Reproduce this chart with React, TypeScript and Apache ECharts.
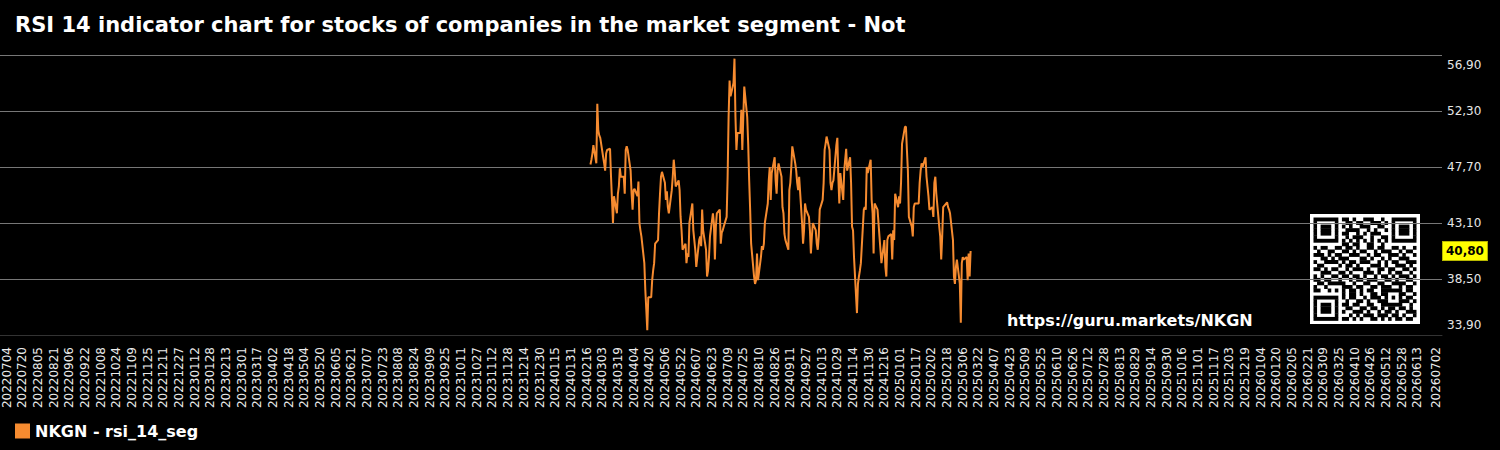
import React, { useEffect, useRef } from 'react';
import * as echarts from 'echarts';

const TITLE = 'RSI 14 indicator chart for stocks of companies in the market segment - Not';
const SERIES_NAME = 'NKGN - rsi_14_seg';
const WATERMARK = 'https://guru.markets/NKGN';

// Calendar span of the category axis and of the plotted series (YYYYMMDD)
const AXIS_START = '20220704';
const AXIS_END = '20260702';
const SERIES_START = '20240220';
const SERIES_END = '20250314';

// Value axis ticks
const Y_MIN = 33.9;
const Y_MAX = 56.9;
const Y_STEP = 4.6;
const LABEL_EVERY = 16;

// RSI(14) closing values, one per weekday from SERIES_START to SERIES_END
const rsiValues = [
  47.9, 48.3, 48.8, 49.5,
  48.0, 52.9, 50.7, 50.3, 50.1,
  48.5, 48.0, 47.4, 48.8, 49.1,
  49.2, 46.9, 45.0, 43.1, 45.3,
  43.9, 45.5, 46.1, 47.6, 46.9,
  46.9, 45.5, 49.1, 49.4, 49.1,
  47.4, 45.5, 44.2, 45.8, 45.9,
  45.3, 46.5, 43.1, 42.5, 42.0,
  39.8, 37.6, 36.0, 34.3, 37.0,
  37.0, 38.4, 39.2, 39.8, 41.4,
  41.7, 43.9, 45.5, 46.9, 47.3,
  46.4, 45.0, 45.7, 44.4, 43.9,
  45.8, 46.9, 48.3, 47.4, 46.1,
  46.6, 45.8, 43.6, 42.5, 40.9,
  41.4, 39.8, 40.6, 40.3, 43.1,
  44.7, 42.5, 41.7, 40.9, 39.5,
  41.7, 42.0, 41.2, 44.2, 42.5,
  40.9, 38.7, 39.2, 40.3, 42.0,
  43.9, 43.1, 40.1, 42.8, 43.9,
  44.2, 41.4, 42.3, 42.5, 42.8,
  43.6, 46.9, 51.8, 54.8, 53.5,
  54.6, 56.6, 51.8, 49.1, 50.5,
  50.5, 52.4, 49.1, 51.8, 54.3,
  51.8, 49.6, 46.6, 44.2, 41.4,
  38.7, 38.1, 38.4, 40.6, 38.4,
  40.3, 41.2, 40.9, 41.4, 43.1,
  44.7, 46.6, 47.7, 45.0, 47.2,
  48.5, 46.6, 45.5, 47.4, 48.0,
  46.9, 44.4, 43.9, 42.2, 41.7,
  40.9, 45.8, 46.4, 47.7, 49.4,
  48.0, 47.4, 46.4, 45.8, 46.9,
  43.1, 41.4, 42.5, 44.7, 44.2,
  43.6, 42.5, 40.6, 42.0, 43.1,
  42.5, 41.4, 40.9, 42.0, 44.2,
  45.0, 46.4, 49.1, 49.6, 50.2,
  49.1, 46.4, 45.8, 46.4, 46.6,
  49.5, 50.1, 46.9, 44.7, 47.2,
  45.0, 47.4, 48.3, 49.2, 47.4,
  48.5, 46.4, 42.8, 42.5, 40.3,
  35.7, 38.1, 38.7, 39.2, 39.8,
  44.2, 44.4, 44.2, 47.7, 47.2,
  48.3, 45.0, 43.9, 40.6, 44.7,
  44.2, 43.1, 42.0, 40.9, 39.8,
  41.7, 39.5, 38.7, 41.7, 42.0,
  42.2, 40.1, 42.5, 41.7, 45.5,
  44.4, 45.3, 44.7, 46.4, 49.6,
  51.0, 51.0, 49.1, 47.4, 43.6,
  42.8, 42.0, 44.4, 44.7, 44.7,
  44.7, 46.4, 47.4, 48.0, 47.7,
  48.5, 46.9, 46.1, 45.3, 44.2,
  44.4, 43.6, 46.4, 46.9, 45.5,
  42.8, 42.0, 40.1, 42.0, 44.4,
  44.7, 44.8, 44.4, 44.2, 43.9,
  41.7, 38.7, 38.1, 39.5, 40.1,
  38.1, 34.9, 39.8, 40.3, 40.1,
  40.3, 38.4, 40.6, 38.7, 40.8,
];

// QR badge modules (1 = dark)
const qrRows = [
  '1111111 0 1101001110010 0 1111111',
  '1000001 0 0110110011101 0 1000001',
  '1011101 0 1010011100110 0 1011101',
  '1011101 0 0111100101001 0 1011101',
  '1011101 0 1100101011100 0 1011101',
  '1000001 0 0101110010011 0 1000001',
  '1111111 0 1010101010101 0 1111111',
  '0000000 0 1101100110010 0 0000000',
  '101100 1 1011010011011001101001',
  '010011 0 0110101100101110010110',
  '111010 1 1001110010110011101001',
  '001101 0 1110001101001010011100',
  '100111 1 0101101110010101100111',
  '011000 0 1011010001110100111010',
  '110101 1 0010111010011011001101',
  '001110 0 1101000111010010110010',
  '101001 1 0110110100101101011101',
  '110110 0 1001011011100110100110',
  '011011 1 1100100110011001111001',
  '100100 0 0111011001101110010110',
  '110010 1 0101101011001 11111 0110',
  '00000000 1 01101001101 10001 1001',
  '1111111 0 101100101110 10101 0110',
  '1000001 0 010011010011 10001 1101',
  '1011101 0 110110011001 11111 0010',
  '1011101 0 011001101101 011011010',
  '1011101 0 100111010010 110100111',
  '1000001 0 001010111011 101101001',
  '1111111 0 110101001101 010110110',
].map((r) => r.replace(/ /g, ''));

const DAY_MS = 86400000;
const FONT = 'DejaVu Sans';

function parseDay(s: string): number {
  return Date.UTC(+s.slice(0, 4), +s.slice(4, 6) - 1, +s.slice(6, 8));
}

function formatDay(t: number): string {
  const d = new Date(t);
  const mm = String(d.getUTCMonth() + 1).padStart(2, '0');
  const dd = String(d.getUTCDate()).padStart(2, '0');
  return `${d.getUTCFullYear()}${mm}${dd}`;
}

function calendarDays(from: string, to: string): string[] {
  const out: string[] = [];
  for (let t = parseDay(from); t <= parseDay(to); t += DAY_MS) out.push(formatDay(t));
  return out;
}

function weekdays(from: string, to: string): string[] {
  return calendarDays(from, to).filter((s) => {
    const w = new Date(parseDay(s)).getUTCDay();
    return w !== 0 && w !== 6;
  });
}

const fmtComma = (v: number) => v.toFixed(2).replace('.', ',');

function buildQr(size: number, pad: number) {
  const m = (size - 2 * pad) / qrRows.length;
  const children: any[] = [
    { type: 'rect', shape: { x: 0, y: 0, width: size, height: size }, style: { fill: '#ffffff' } },
  ];
  qrRows.forEach((row, r) => {
    let c = 0;
    while (c < row.length) {
      if (row[c] === '1') {
        let e = c;
        while (e < row.length && row[e] === '1') e++;
        children.push({
          type: 'rect',
          shape: { x: pad + c * m, y: pad + r * m, width: (e - c) * m, height: m + 0.35 },
          style: { fill: '#000000' },
        });
        c = e;
      } else c++;
    }
  });
  return children;
}

export default function App() {
  const ref = useRef<HTMLDivElement>(null);

  useEffect(() => {
    document.body.style.margin = '0';
    document.body.style.background = '#000';
    if (!ref.current) return;
    const chart = echarts.init(ref.current, undefined, { renderer: 'svg' });

    const categories = calendarDays(AXIS_START, AXIS_END);
    const indexOf = new Map(categories.map((d, i) => [d, i]));
    const tradeDays = weekdays(SERIES_START, SERIES_END);
    const seriesData = tradeDays.map((d, i) => [indexOf.get(d), rsiValues[i]]);
    const last = rsiValues[rsiValues.length - 1];
    const lastIdx = categories.length - 1;

    const option: any = {
      animation: false,
      backgroundColor: '#000000',
      textStyle: { fontFamily: FONT },
      title: {
        text: TITLE,
        left: 10,
        top: 9,
        textStyle: { color: '#ffffff', fontSize: 21, fontWeight: 'bold', fontFamily: FONT },
      },
      legend: {
        left: 10,
        top: 418,
        icon: 'rect',
        itemWidth: 15,
        itemHeight: 15,
        data: [SERIES_NAME],
        textStyle: { color: '#ffffff', fontSize: 16, fontWeight: 'bold', fontFamily: FONT },
      },
      grid: [
        { left: 6.5, right: 64, top: 55, bottom: 115 },
        { left: 0, right: 58, top: 55, bottom: 115 },
      ],
      xAxis: [
        {
          gridIndex: 0,
          type: 'category',
          data: categories,
          boundaryGap: false,
          axisLine: { show: false },
          axisTick: { show: false },
          splitLine: { show: false },
          axisLabel: {
            rotate: 90,
            margin: 12,
            color: '#ececec',
            fontSize: 12,
            fontFamily: FONT,
            interval: (i: number) =>
              (i % LABEL_EVERY === 0 && i < lastIdx - 10) || i === lastIdx,
          },
        },
        {
          gridIndex: 1,
          type: 'value',
          min: 0,
          max: 1,
          axisLine: { show: true, onZero: false, lineStyle: { color: '#333333', width: 1 } },
          axisTick: { show: false },
          axisLabel: { show: false },
          splitLine: { show: false },
        },
      ],
      yAxis: [
        { gridIndex: 0, type: 'value', min: Y_MIN, max: Y_MAX, interval: Y_STEP, show: false },
        {
          gridIndex: 1,
          type: 'value',
          position: 'right',
          min: Y_MIN,
          max: Y_MAX,
          interval: Y_STEP,
          axisLine: { show: false },
          axisTick: { show: false },
          splitLine: { show: true, lineStyle: { color: '#777777', width: 1 } },
          axisLabel: {
            margin: 5,
            color: '#e6e6e6',
            fontSize: 12,
            fontFamily: FONT,
            formatter: (v: number) => {
              const s = fmtComma(v);
              if (Math.abs(v - Y_MAX) < 1e-6) return `{hi|${s}}`;
              if (Math.abs(v - Y_MIN) < 1e-6) return `{lo|${s}}`;
              return s;
            },
            rich: {
              hi: { padding: [4, 0, 0, 0], color: '#e6e6e6', fontSize: 12, fontFamily: FONT },
              lo: { padding: [0, 0, 4, 0], color: '#e6e6e6', fontSize: 12, fontFamily: FONT },
            },
            verticalAlignMaxLabel: 'top',
            verticalAlignMinLabel: 'bottom',
          },
        },
      ],
      series: [
        {
          name: SERIES_NAME,
          type: 'line',
          xAxisIndex: 0,
          yAxisIndex: 0,
          data: seriesData,
          showSymbol: false,
          symbol: 'none',
          color: '#f68b30',
          lineStyle: { color: '#f68b30', width: 2 },
          z: 3,
          markLine: {
            silent: true,
            symbol: 'none',
            lineStyle: { color: 'rgba(0,0,0,0)', width: 0 },
            data: [{ yAxis: last }],
            label: {
              show: true,
              position: 'end',
              distance: 7,
              formatter: (p: any) => fmtComma(Number(p.value)),
              backgroundColor: '#ffff00',
              borderColor: '#b8b800',
              borderWidth: 1,
              color: '#000000',
              fontWeight: 'bold',
              fontSize: 12,
              fontFamily: FONT,
              padding: [3, 3, 3, 3],
            },
          },
        },
      ],
      graphic: [
        {
          type: 'group',
          x: 1310,
          y: 214,
          z: 10,
          children: buildQr(110, 3.5),
        },
        {
          type: 'text',
          x: 1007,
          y: 320,
          z: 10,
          style: {
            text: WATERMARK,
            fill: '#ffffff',
            font: `bold 16px "${FONT}"`,
            verticalAlign: 'middle',
            align: 'left',
          },
        },
      ],
    };

    chart.setOption(option);
    return () => chart.dispose();
  }, []);

  return (
    <div
      ref={ref}
      style={{ position: 'absolute', left: 0, top: 0, width: 1500, height: 450, background: '#000' }}
    />
  );
}
